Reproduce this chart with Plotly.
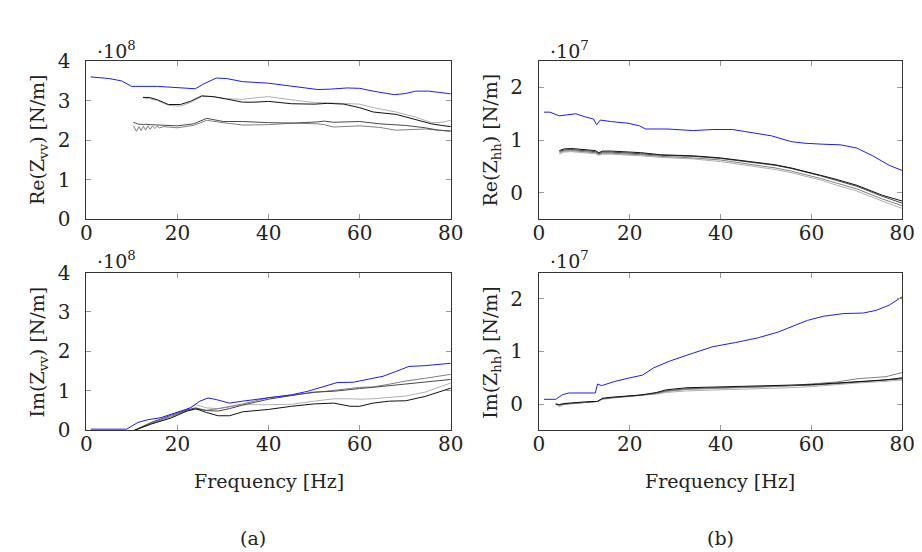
import plotly.graph_objects as go
from plotly.subplots import make_subplots

# ---- Re(Zvv), units of 1e8 N/m ----
re_vv_blue_f = [0.9, 4.9, 7.7, 9.9, 15.6, 19.9, 23.9, 25.7, 28.5, 30.7, 34.3, 40, 45, 50.8,
                53.6, 57.2, 60, 62.9, 67.6, 70.1, 72.3, 75.1, 77.3, 80]
re_vv_blue = [3.60, 3.56, 3.50, 3.36, 3.36, 3.32, 3.30, 3.42, 3.57, 3.56, 3.48, 3.44, 3.36, 3.28,
              3.29, 3.32, 3.31, 3.24, 3.15, 3.18, 3.24, 3.24, 3.21, 3.17]

re_vv_up_f = [12.4, 13.8, 15.6, 18, 20.6, 22.8, 25.3, 27.8, 30.7, 34.3, 37, 40, 45, 50, 53,
              56.5, 60, 63, 68, 72.3, 75.8, 78, 80]
re_vv_black = [3.08, 3.08, 3.02, 2.90, 2.90, 2.98, 3.12, 3.10, 3.04, 2.96, 2.96, 2.98, 2.92, 2.91,
               2.93, 2.91, 2.82, 2.71, 2.65, 2.51, 2.41, 2.37, 2.34]
re_vv_light = [3.07, 3.05, 3.00, 2.88, 2.86, 2.95, 3.10, 3.10, 3.05, 3.03, 3.07, 3.10, 3.02, 2.95,
               2.94, 2.93, 2.91, 2.82, 2.71, 2.58, 2.44, 2.45, 2.50]

re_vv_low_f = [10.3, 11, 11.5, 12, 12.5, 13, 13.5, 14, 14.5, 15, 15.5, 16, 17, 19.9, 23.5, 26.4,
               30, 34.3, 40, 45.7, 50.8, 52.2, 54.3, 60, 64.4, 67.9, 70.1, 74.4, 77.3, 80]
re_vv_dark = [2.45, 2.41, 2.40, 2.40, 2.39, 2.40, 2.39, 2.39, 2.39, 2.38, 2.38, 2.38, 2.37, 2.36,
              2.41, 2.55, 2.47, 2.47, 2.44, 2.43, 2.46, 2.48, 2.45, 2.47, 2.41, 2.39, 2.37, 2.31,
              2.25, 2.23]
re_vv_gray = [2.36, 2.22, 2.34, 2.24, 2.35, 2.25, 2.36, 2.27, 2.36, 2.29, 2.35, 2.31, 2.34, 2.31,
              2.37, 2.50, 2.44, 2.38, 2.39, 2.43, 2.41, 2.39, 2.33, 2.36, 2.32, 2.25, 2.26, 2.28,
              2.25, 2.22]

# ---- Im(Zvv), units of 1e8 N/m ----
im_vv_blue_f = [0.9, 8.8, 11.3, 13.5, 16.3, 19.9, 22.8, 24.9, 26.7, 28.5, 31.4, 34.3, 40, 45,
                48.6, 52.2, 55, 58.6, 61.5, 65.1, 67.9, 70.8, 74.4, 80]
im_vv_blue = [0.03, 0.03, 0.20, 0.27, 0.32, 0.45, 0.57, 0.74, 0.82, 0.78, 0.69, 0.74, 0.82, 0.90,
              0.99, 1.12, 1.21, 1.22, 1.28, 1.37, 1.49, 1.62, 1.64, 1.70]

im_vv_f = [10.5, 14.2, 18.5, 22.1, 24, 26.4, 28.9, 31.4, 34.3, 40, 45, 50, 54.3, 57.9, 60, 62.9,
           66.5, 70.1, 74.4, 80]
im_vv_black = [0, 0.16, 0.31, 0.49, 0.55, 0.45, 0.37, 0.37, 0.47, 0.53, 0.61, 0.67, 0.69, 0.61,
               0.61, 0.69, 0.74, 0.75, 0.86, 1.07]
im_vv_light = [0, 0.17, 0.33, 0.55, 0.65, 0.57, 0.55, 0.59, 0.65, 0.65, 0.66, 0.74, 0.80, 0.80,
               0.79, 0.80, 0.83, 0.87, 0.97, 1.20]
im_vv_dark = [0, 0.20, 0.38, 0.52, 0.57, 0.50, 0.49, 0.55, 0.64, 0.79, 0.88, 0.97, 0.99, 1.04,
              1.06, 1.09, 1.13, 1.17, 1.22, 1.29]
im_vv_gray = [0, 0.18, 0.35, 0.50, 0.53, 0.51, 0.55, 0.61, 0.67, 0.83, 0.89, 0.95, 1.01, 1.06,
              1.09, 1.10, 1.17, 1.25, 1.32, 1.42]

# ---- Re(Zhh), units of 1e7 N/m ----
re_hh_blue_f = [1.1, 2.4, 4.5, 6.6, 8.1, 10.2, 12, 12.7, 13.5, 16, 19.6, 22.1, 23.5, 28.2, 34,
                38.3, 42.6, 46.9, 51.2, 55.5, 58.4, 62.7, 66.3, 69.9, 73.5, 77.1, 80]
re_hh_blue = [1.53, 1.53, 1.46, 1.49, 1.50, 1.44, 1.40, 1.29, 1.38, 1.35, 1.32, 1.27, 1.21, 1.21,
              1.18, 1.20, 1.20, 1.14, 1.08, 0.97, 0.94, 0.92, 0.91, 0.85, 0.70, 0.52, 0.42]

re_hh_f = [4.5, 5.5, 7, 10, 12.4, 13.2, 14, 16, 20, 22.4, 26.8, 30, 34, 40, 45, 48.3, 52, 55.5,
           58, 62, 65.6, 70, 75.6, 80]
re_hh_black = [0.80, 0.83, 0.84, 0.82, 0.80, 0.76, 0.79, 0.79, 0.77, 0.76, 0.72, 0.71, 0.70, 0.66,
               0.61, 0.58, 0.53, 0.47, 0.42, 0.33, 0.25, 0.14, -0.05, -0.16]
re_hh_dark = [0.78, 0.81, 0.82, 0.80, 0.78, 0.74, 0.77, 0.77, 0.76, 0.74, 0.71, 0.70, 0.69, 0.65,
              0.60, 0.57, 0.52, 0.46, 0.41, 0.32, 0.23, 0.12, -0.07, -0.20]
re_hh_gray = [0.76, 0.79, 0.80, 0.78, 0.76, 0.73, 0.75, 0.75, 0.74, 0.72, 0.69, 0.68, 0.66, 0.62,
              0.56, 0.52, 0.47, 0.41, 0.36, 0.27, 0.18, 0.07, -0.12, -0.25]
re_hh_light = [0.73, 0.77, 0.78, 0.76, 0.74, 0.71, 0.73, 0.73, 0.72, 0.70, 0.67, 0.66, 0.64, 0.59,
               0.53, 0.49, 0.44, 0.38, 0.33, 0.24, 0.14, 0.03, -0.16, -0.30]

# ---- Im(Zhh), units of 1e7 N/m ----
im_hh_blue_f = [1.1, 3.7, 5.2, 6.6, 12.4, 12.9, 13.8, 16.7, 19.6, 22.8, 25.3, 28.9, 34, 38.3,
                43.3, 48.3, 52.7, 55.5, 59.1, 62.7, 67.1, 71.4, 74.2, 77.1, 80]
im_hh_blue = [0.09, 0.09, 0.18, 0.21, 0.21, 0.38, 0.35, 0.43, 0.49, 0.55, 0.69, 0.82, 0.97, 1.09,
              1.17, 1.26, 1.37, 1.46, 1.59, 1.67, 1.72, 1.73, 1.78, 1.88, 2.04]

im_hh_f = [3.7, 4.5, 5.5, 8, 10, 12.9, 13.5, 14, 16, 20, 22.4, 25.9, 28, 32.6, 40, 45, 51, 55, 60,
           65.6, 70, 76.4, 80]
im_hh_black = [0.0, -0.01, 0.01, 0.03, 0.04, 0.05, 0.09, 0.11, 0.13, 0.16, 0.17, 0.22, 0.27, 0.31,
               0.33, 0.34, 0.35, 0.36, 0.37, 0.40, 0.43, 0.46, 0.50]
im_hh_gray = [0.0, -0.02, 0.0, 0.02, 0.03, 0.05, 0.08, 0.10, 0.12, 0.15, 0.17, 0.20, 0.24, 0.28,
              0.30, 0.31, 0.33, 0.35, 0.38, 0.42, 0.48, 0.52, 0.60]
im_hh_dark = [0.0, -0.02, 0.0, 0.02, 0.03, 0.05, 0.08, 0.10, 0.12, 0.15, 0.17, 0.21, 0.25, 0.29,
              0.31, 0.32, 0.33, 0.34, 0.36, 0.39, 0.42, 0.45, 0.48]
im_hh_light = [0.0, -0.05, -0.01, 0.01, 0.03, 0.05, 0.07, 0.09, 0.11, 0.14, 0.16, 0.19, 0.22, 0.25,
               0.27, 0.28, 0.30, 0.31, 0.33, 0.37, 0.40, 0.43, 0.46]

BLUE = "#1a1aff"
BLACK = "#111111"
DARK = "#4a4a4a"
GRAY = "#808080"
LIGHT = "#b0b0b0"
FONT = "DejaVu Serif, Liberation Serif, serif"

W, H = 922, 552

fig = make_subplots(rows=2, cols=2)


def add(row, col, x, y, color):
    fig.add_trace(go.Scatter(x=x, y=y, mode="lines", line=dict(color=color, width=1),
                             showlegend=False, hoverinfo="skip"), row=row, col=col)


# grays first, blue drawn last
add(1, 1, re_vv_up_f, re_vv_light, LIGHT)
add(1, 1, re_vv_up_f, re_vv_black, BLACK)
add(1, 1, re_vv_low_f, re_vv_gray, GRAY)
add(1, 1, re_vv_low_f, re_vv_dark, DARK)
add(1, 1, re_vv_blue_f, re_vv_blue, BLUE)

add(2, 1, im_vv_f, im_vv_light, LIGHT)
add(2, 1, im_vv_f, im_vv_gray, GRAY)
add(2, 1, im_vv_f, im_vv_dark, DARK)
add(2, 1, im_vv_f, im_vv_black, BLACK)
add(2, 1, im_vv_blue_f, im_vv_blue, BLUE)

add(1, 2, re_hh_f, re_hh_light, LIGHT)
add(1, 2, re_hh_f, re_hh_gray, GRAY)
add(1, 2, re_hh_f, re_hh_dark, DARK)
add(1, 2, re_hh_f, re_hh_black, BLACK)
add(1, 2, re_hh_blue_f, re_hh_blue, BLUE)

add(2, 2, im_hh_f, im_hh_light, LIGHT)
add(2, 2, im_hh_f, im_hh_dark, DARK)
add(2, 2, im_hh_f, im_hh_gray, GRAY)
add(2, 2, im_hh_f, im_hh_black, BLACK)
add(2, 2, im_hh_blue_f, im_hh_blue, BLUE)

# plot boxes in pixels: (left, right, top, bottom)
boxes = {
    (1, 1): (74, 446, 43, 208),
    (2, 1): (74, 446, 264, 429),
    (1, 2): (536, 907, 43, 208),
    (2, 2): (536, 907, 264, 429),
}
yranges = {(1, 1): [0, 4], (2, 1): [0, 4], (1, 2): [-0.5, 2.5], (2, 2): [-0.5, 2.5]}
ytickvals = {(1, 1): [0, 1, 2, 3, 4], (2, 1): [0, 1, 2, 3, 4],
             (1, 2): [0, 1, 2], (2, 2): [0, 1, 2]}

axis_style = dict(showgrid=False, zeroline=False, showline=True, linecolor="#333333",
                  linewidth=1, mirror="ticks", ticks="inside", ticklen=5, tickcolor="#999999",
                  tickfont=dict(family=FONT, size=20, color="#222222"))

for (r, c), (l, rr, t, b) in boxes.items():
    fig.update_xaxes(domain=[l / W, rr / W], range=[0, 80], tickvals=[0, 20, 40, 60, 80],
                     ticklabelstandoff=-4, row=r, col=c, **axis_style)
    fig.update_yaxes(domain=[1 - b / H, 1 - t / H], range=yranges[(r, c)],
                     tickvals=ytickvals[(r, c)], ticklabelstandoff=11,
                     row=r, col=c, **axis_style)

txt = dict(family=FONT, size=19, color="#222222")
annots = [
    (25, 125, "Re(Z<sub>vv</sub>) [N/m]", -90),
    (25, 347, "Im(Z<sub>vv</sub>) [N/m]", -90),
    (488, 125, "Re(Z<sub>hh</sub>) [N/m]", -90),
    (488, 347, "Im(Z<sub>hh</sub>) [N/m]", -90),
    (260, 482, "Frequency [Hz]", 0),
    (721, 482, "Frequency [Hz]", 0),
    (244, 542, "(a)", 0),
    (721, 542, "(b)", 0),
]
for x, y, s, ang in annots:
    fig.add_annotation(x=x / W, y=1 - y / H, xref="paper", yref="paper", text=s,
                       showarrow=False, textangle=ang, font=txt,
                       xanchor="center", yanchor="middle")

for x, y, s in [(83, 31, "·10<sup>8</sup>"), (83, 251, "·10<sup>8</sup>"),
                (545, 31, "·10<sup>7</sup>"), (545, 251, "·10<sup>7</sup>")]:
    fig.add_annotation(x=x / W, y=1 - y / H, xref="paper", yref="paper", text=s,
                       showarrow=False, font=txt, xanchor="left", yanchor="middle")

fig.update_layout(width=W, height=H, margin=dict(l=0, r=0, t=0, b=0),
                  plot_bgcolor="white", paper_bgcolor="white", showlegend=False)

fig.write_html("out.html")
